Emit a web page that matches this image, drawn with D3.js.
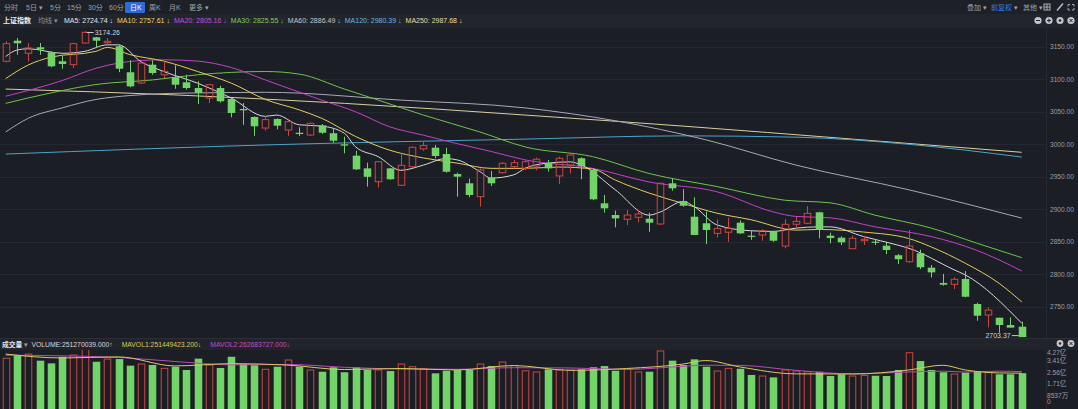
<!DOCTYPE html>
<html>
<head>
<meta charset="utf-8">
<script src="https://cdn.jsdelivr.net/npm/d3@7"></script>
<style>
  html, body { margin: 0; padding: 0; background: #1c1e25; overflow: hidden; }
  svg { display: block; }
  text { font-family: "Liberation Sans", "Noto Sans CJK SC", sans-serif; }
</style>
</head>
<body>
<svg id="chart" width="1078" height="409"></svg>
<script>
// ---- data ----
const opens  = [3127.7,3159.4,3140,3149.2,3141.5,3127.7,3122.5,3155.8,3164.6,3156.3,3150.8,3110.8,3094.3,3122.5,3107,3103,3095.4,3086.6,3071.2,3086.6,3069.7,3054.3,3042,3025,3038.9,3022,3017.8,3014.3,3029.2,3017,3000,2982.5,2963,2942.5,2963,2937,2965.6,2992.9,2994.8,2985,2954.3,2940,2919.4,2948.6,2956.3,2965.6,2963,2966.7,2970.8,2951.3,2968.2,2978.5,2960.5,2909.2,2891.2,2884.6,2887.7,2885.5,2877.4,2940,2912.8,2888.6,2878.5,2863,2864.7,2879.4,2859.4,2860.5,2865.6,2843.5,2877,2878.5,2895.4,2859.4,2856.3,2839.4,2851.7,2850.2,2844,2829.3,2819.4,2832.3,2810.2,2786.7,2784.6,2792.8,2754.3,2737.4,2733.2,2722,2719.4];
const highs  = [3158.5,3163.5,3155.8,3155.8,3143,3136.3,3156.3,3174.26,3165,3163.5,3153.2,3129.2,3125.5,3129.2,3127.7,3121.5,3107,3097,3092.8,3090,3071.2,3063.5,3043,3043,3040,3037.4,3026.2,3033.5,3031,3024.6,3011.7,2990,2971.7,2974.3,2963.5,2986.2,2996.5,3004,2999,2994.8,2956.3,2947,2963,2959,2973,2976,2975,2979.6,2976,2981,2986,2980,2963,2922,2898,2899,2899,2894.8,2941,2947.7,2931,2918.5,2896.3,2884.6,2887,2883,2868.2,2869.4,2867,2884.6,2888.6,2905,2896.3,2864,2858.5,2859.4,2859.4,2854,2850.2,2831.3,2868.2,2838,2814.3,2800.5,2795.4,2805,2756.3,2749.2,2733.2,2733.8,2727.2];
const lows   = [3126,3137.8,3127.7,3137.8,3118.5,3116.3,3117.4,3155,3148,3153.2,3111,3087.7,3092.8,3107,3102,3085.5,3084,3062,3063.5,3064,3041.5,3030,3013,3021,3023,3012.8,3012.8,3012.8,3016,3002.5,2986.2,2960.5,2934.8,2933.8,2945.5,2936,2964,2990,2978.5,2956.3,2919.4,2918.5,2904,2935.8,2955,2963,2960,2960,2958,2939,2955.5,2946.2,2914,2895,2872.3,2875.8,2880,2865.5,2876,2928.6,2904,2860.5,2846.6,2856.8,2850,2862,2853,2851.7,2850,2840,2872.5,2877.4,2855.4,2847.6,2845,2838.9,2845,2845,2831,2815.8,2817.8,2808,2795,2782.5,2777.4,2764.6,2728.6,2718.4,2710.2,2718,2703.37];
const closes = [3154.8,3155.4,3148.2,3146.2,3120,3123.5,3154.8,3172.3,3159.4,3158.5,3116.3,3089.2,3125,3109.7,3112.3,3091.7,3086.6,3079,3091.7,3066.2,3048.2,3052.3,3027.7,3038,3028.6,3034.8,3015.8,3032.3,3017.8,3005.5,2998,2961.5,2950,2973.2,2946.2,2967.7,2995.4,2998,2982,2957.8,2950.2,2922,2960.5,2940,2970.8,2971.7,2973.2,2977,2963,2978.5,2983.5,2966.7,2915.4,2901.5,2886,2891.2,2892.8,2879.4,2940,2932.3,2905.5,2860.5,2868.2,2870.3,2870.8,2863,2858,2867.2,2851.7,2876.9,2881.5,2893.8,2868.2,2855.8,2849.2,2855.4,2853.8,2848.6,2837.4,2823.2,2843.5,2810.8,2803,2784,2792.3,2765.5,2736.3,2745,2722,2718,2703.4];
// volume in 亿
const volumes = [3.62,3.86,3.93,3.44,3.24,3.73,3.86,4.27,3.36,3.56,3.56,3.07,3.19,3.12,2.87,2.99,2.75,3.59,3.12,2.90,3.73,3.19,3.10,2.80,2.99,3.49,2.99,2.75,2.62,2.95,2.58,2.95,2.75,2.75,2.67,3.19,2.99,2.84,2.50,2.69,2.75,2.75,3.19,3.04,3.34,3.07,2.69,2.60,2.80,2.75,2.75,2.80,2.95,3.04,2.69,2.80,2.60,2.62,4.16,3.44,3.12,3.54,2.99,2.67,2.87,2.84,2.38,2.30,2.20,2.75,2.67,2.62,2.62,2.30,2.43,2.30,2.35,2.32,2.30,2.75,4.03,3.41,2.75,2.58,2.45,2.55,2.62,2.58,2.43,2.43,2.51];

// moving-average lines, sampled at candle indices
const ma5Idx = [0,1,2,5,7,9,10,12,14,17,20,23,24,26,28,30,31,33,35,37,39,40,42,43,45,46,48,50,51,54,57,58,60,61,63,66,68,70,72,73,76,79,80,84,85,90];
const ma5    = [3135,3145,3147,3140,3143,3153,3153,3127,3112,3094,3071,3043,3045,3030,3028,3017,2996,2981,2960,2968,2978,2976,2958,2948,2953,2963,2971,2973,2968,2930,2891,2896,2912,2904,2876,2867,2866,2871,2873,2873,2858,2845,2840,2807,2799,2724.74];
const ma10Idx = [0,2,4,8,9,11,14,17,20,23,26,28,31,34,37,40,43,46,49,52,54,57,60,63,66,70,72,76,80,82,85,88,90];
const ma10    = [3101,3122,3134,3143,3149,3138,3128,3112,3094,3069,3053,3040,3012,2991,2979,2971,2963,2963,2965,2962,2945,2925,2909,2894,2884,2868,2869,2865,2855,2842,2817,2786,2757.61];
const ma20Idx = [0,5,8,12,14,17,20,23,28,31,34,37,40,43,46,52,57,63,68,70,73,77,82,86,90];
const ma20    = [3074,3098,3117,3129,3130,3128,3118,3099,3068,3050,3027,3014,3001,2989,2976,2963,2942,2927,2896,2889,2887,2873,2858,2837,2805.16];
const ma30Idx = [0,4,8,13,17,23,26,30,33,37,42,46,52,57,63,69,73,77,82,86,90];
const ma30    = [3063,3079,3092,3099,3107,3112,3108,3085,3068,3045,3019,2996,2981,2955,2935,2914,2910,2891,2871,2848,2825.55];
const ma60Idx = [0,2,5,8,11,14,17,23,35,46,62,70,80,90];
const ma60    = [3019,3040,3056,3069,3075,3078,3079,3080,3068,3056,3007,2968,2930,2886.49];
const ma120Idx = [0,23,46,60,70,80,90];
const ma120    = [2985,2999,3008,3013,3011,3000,2980.39];
const ma250Idx = [0,15,30,46,60,75,90];
const ma250    = [3085,3076,3063,3045,3028,3008,2987.68];
// volume averages (亿)
const mavIdx = [0,5,10,15,20,25,30,35,40,45,50,55,60,62,65,70,75,80,83,85,88,90];
const mavol1 = [3.93,3.64,3.72,3.05,3.22,3.11,2.78,2.86,2.75,3.08,2.72,2.86,3.19,3.45,2.98,2.46,2.45,2.75,3.10,2.75,2.53,2.51];
const mavol2 = [3.85,3.80,3.68,3.38,3.13,3.16,2.95,2.82,2.80,2.92,2.90,2.79,3.02,3.10,3.09,2.72,2.46,2.60,2.66,2.60,2.66,2.63];

const priceTicks = [3150,3100,3050,3000,2950,2900,2850,2800,2750];
const volTicks = [4.27,3.41,2.56,1.71,0.8537,0];
const volTickLabels = ["4.27亿","3.41亿","2.56亿","1.71亿","8537万","0"];

const toolbarItems = ["分时","5日 ▾","5分","15分","30分","60分","日K","周K","月K","更多 ▾"];
const toolbarX     = [4, 26, 50, 67, 88, 109, 130, 149, 169, 189];

// ---- layout ----
const W = 1078, H = 409;
const UP = "#d0463e", DOWN = "#72d468";
const svg = d3.select("#chart");

// backgrounds
svg.append("rect").attr("width", W).attr("height", H).attr("fill", "#1c1e25");
svg.append("rect").attr("x", 0).attr("y", 0).attr("width", W).attr("height", 14).attr("fill", "#1e2027");
svg.append("rect").attr("x", 0).attr("y", 14).attr("width", W).attr("height", 14).attr("fill", "#23252d");
svg.append("rect").attr("x", 0).attr("y", 338).attr("width", W).attr("height", 12).attr("fill", "#22242c");

const x = d3.scaleBand()
  .domain(d3.range(closes.length))
  .range([0, 1027.4])
  .paddingInner(0.42)
  .paddingOuter(0.21);
const xc = i => x(0) + (x.step() * i) + x.bandwidth() / 2;

const y = d3.scaleLinear().domain([2750, 3150]).range([306.8, 46.8]);
const yv = d3.scaleLinear().domain([0, 4.27]).range([407, 349.5]);

// grid lines
svg.append("g").selectAll("line").data(priceTicks).enter().append("line")
  .attr("x1", 0).attr("x2", 1047)
  .attr("y1", d => Math.round(y(d)) + 0.5).attr("y2", d => Math.round(y(d)) + 0.5)
  .attr("stroke", "#252831").attr("stroke-width", 1);
svg.append("line").attr("x1", 1046.5).attr("x2", 1046.5).attr("y1", 28).attr("y2", 338)
  .attr("stroke", "#262933");
svg.append("line").attr("x1", 1046.5).attr("x2", 1046.5).attr("y1", 350).attr("y2", 409)
  .attr("stroke", "#262933");

// price axis labels
svg.append("g").selectAll("text").data(priceTicks).enter().append("text")
  .attr("x", 1050).attr("y", d => y(d) + 2.3)
  .attr("font-size", "6.6px").attr("fill", "#9b9ea6")
  .text(d => d.toFixed(2));

// clip for the price panel
svg.append("clipPath").attr("id", "pclip").append("rect")
  .attr("x", 0).attr("y", 28).attr("width", 1046).attr("height", 310);
svg.append("clipPath").attr("id", "vclip").append("rect")
  .attr("x", 0).attr("y", 350).attr("width", 1046).attr("height", 59);

const plot = svg.append("g").attr("clip-path", "url(#pclip)");

// MA lines
const maLine = d3.line().x(d => xc(d[0])).y(d => y(d[1])).curve(d3.curveMonotoneX);
const maDefs = [
  [ma250Idx, ma250, "#d8cf9c"],
  [ma120Idx, ma120, "#4ea3c9"],
  [ma60Idx, ma60, "#a8a9b0"],
  [ma30Idx, ma30, "#6cc449"],
  [ma20Idx, ma20, "#c241c8"],
  [ma10Idx, ma10, "#e2cd5c"],
  [ma5Idx, ma5, "#d8d8dc"]
];
maDefs.forEach(([idx, vals, col]) => {
  plot.append("path")
    .datum(idx.map((d, i) => [d, vals[i]]))
    .attr("fill", "none").attr("stroke", col).attr("stroke-width", 1)
    .attr("d", maLine);
});

// candles
const candles = plot.append("g").selectAll("g").data(d3.range(closes.length)).enter().append("g");
candles.each(function(i) {
  const g = d3.select(this);
  const up = closes[i] >= opens[i];
  const cx = Math.round(xc(i)) + 0.5;
  const top = y(Math.max(opens[i], closes[i]));
  const bot = y(Math.min(opens[i], closes[i]));
  const bw = x.bandwidth();
  const col = up ? UP : DOWN;
  if (up) {
    g.append("line").attr("x1", cx).attr("x2", cx).attr("y1", y(highs[i])).attr("y2", top).attr("stroke", col);
    g.append("line").attr("x1", cx).attr("x2", cx).attr("y1", bot).attr("y2", y(lows[i])).attr("stroke", col);
    g.append("rect").attr("x", cx - bw / 2).attr("y", top)
      .attr("width", bw).attr("height", Math.max(1, bot - top))
      .attr("fill", "none").attr("stroke", col).attr("stroke-width", 1);
  } else {
    g.append("line").attr("x1", cx).attr("x2", cx).attr("y1", y(highs[i])).attr("y2", y(lows[i])).attr("stroke", col);
    g.append("rect").attr("x", cx - bw / 2 - 0.5).attr("y", top)
      .attr("width", bw + 1).attr("height", Math.max(1.2, bot - top))
      .attr("fill", col);
  }
});

// high / low markers
const hiI = highs.indexOf(d3.max(highs));
const loI = lows.indexOf(d3.min(lows));
plot.append("line").attr("x1", xc(hiI) + 2).attr("x2", xc(hiI) + 9)
  .attr("y1", y(highs[hiI]) + 1.5).attr("y2", y(highs[hiI]) + 1.5).attr("stroke", "#c8cad0");
plot.append("text").attr("x", xc(hiI) + 10).attr("y", y(highs[hiI]) + 4)
  .attr("font-size", "7px").attr("fill", "#d0d2d8").text(highs[hiI].toFixed(2));
plot.append("line").attr("x1", xc(loI) - 10).attr("x2", xc(loI) - 3)
  .attr("y1", y(lows[loI]) - 1.5).attr("y2", y(lows[loI]) - 1.5).attr("stroke", "#c8cad0");
plot.append("text").attr("x", xc(loI) - 11).attr("y", y(lows[loI]) + 1).attr("text-anchor", "end")
  .attr("font-size", "7px").attr("fill", "#d0d2d8").text(lows[loI].toFixed(2));

// volume bars
const vplot = svg.append("g").attr("clip-path", "url(#vclip)");
vplot.selectAll("rect").data(volumes).enter().append("rect")
  .attr("x", (d, i) => Math.round(xc(i)) + 0.5 - x.bandwidth() / 2 - (closes[i] >= opens[i] ? 0 : 0.5))
  .attr("y", d => yv(d))
  .attr("width", (d, i) => closes[i] >= opens[i] ? x.bandwidth() : x.bandwidth() + 1)
  .attr("height", d => 412 - yv(d))
  .attr("fill", (d, i) => closes[i] >= opens[i] ? "none" : DOWN)
  .attr("stroke", (d, i) => closes[i] >= opens[i] ? UP : "none");

const vLine = d3.line().x(d => xc(d[0])).y(d => yv(d[1])).curve(d3.curveMonotoneX);
vplot.append("path").datum(mavIdx.map((d, i) => [d, mavol2[i]]))
  .attr("fill", "none").attr("stroke", "#b64ab9").attr("stroke-width", 1).attr("d", vLine);
vplot.append("path").datum(mavIdx.map((d, i) => [d, mavol1[i]]))
  .attr("fill", "none").attr("stroke", "#d9c95e").attr("stroke-width", 1).attr("d", vLine);

// volume axis labels
svg.append("g").selectAll("text").data(volTicks).enter().append("text")
  .attr("x", 1047)
  .attr("y", d => Math.min(402, Math.max(353, yv(d))) + 2.4)
  .attr("font-size", "6.6px").attr("fill", "#9b9ea6")
  .text((d, i) => volTickLabels[i]);

// ---- toolbar ----
svg.append("rect").attr("x", 125).attr("y", 2).attr("width", 20).attr("height", 11)
  .attr("fill", "#2d6bd6").attr("rx", 1);
svg.append("g").selectAll("text").data(toolbarItems).enter().append("text")
  .attr("x", (d, i) => toolbarX[i]).attr("y", 9.6)
  .attr("font-size", "7px")
  .attr("fill", d => d === "日K" ? "#ffffff" : "#9fa2aa")
  .text(d => d);

const tr = svg.append("text").attr("x", 967).attr("y", 9.6).attr("font-size", "7px").attr("fill", "#9fa2aa");
tr.append("tspan").text("叠加 ▾");
tr.append("tspan").attr("dx", 4).attr("fill", "#3b7fe4").text("前复权");
tr.append("tspan").attr("dx", 2).text("▾");
tr.append("tspan").attr("dx", 5).text("其他 ▾");

// toolbar icons
const ic = svg.append("g").attr("stroke", "#b9bcc3").attr("fill", "none").attr("stroke-width", 0.9);
ic.append("rect").attr("x", 1044).attr("y", 4).attr("width", 6).attr("height", 6);
ic.append("line").attr("x1", 1044).attr("x2", 1050).attr("y1", 7).attr("y2", 7);
ic.append("line").attr("x1", 1047).attr("x2", 1047).attr("y1", 4).attr("y2", 10);
ic.append("line").attr("x1", 1057).attr("x2", 1063).attr("y1", 10.5).attr("y2", 3.5).attr("stroke-width", 1.5);
ic.append("path").attr("d", "M1068,4.5h2M1068,4.5v2M1074,4.5h-2M1074,4.5v2M1068,10h2M1068,10v-2M1074,10h-2M1074,10v-2");

const circ = svg.append("g");
[[1038, "minus"], [1049, "plus"], [1060, "gear"], [1071, "close"]].forEach(([cx, kind]) => {
  circ.append("circle").attr("cx", cx).attr("cy", 20.5).attr("r", 3.6).attr("fill", "#c4c6cc");
  const s = circ.append("g").attr("stroke", "#23252d").attr("stroke-width", 1);
  if (kind === "minus" || kind === "plus") s.append("line").attr("x1", cx - 2).attr("x2", cx + 2).attr("y1", 20.5).attr("y2", 20.5);
  if (kind === "plus") s.append("line").attr("x1", cx).attr("x2", cx).attr("y1", 18.5).attr("y2", 22.5);
  if (kind === "gear") circ.append("circle").attr("cx", cx).attr("cy", 20.5).attr("r", 1.3).attr("fill", "#23252d");
  if (kind === "close") {
    s.append("line").attr("x1", cx - 1.5).attr("x2", cx + 1.5).attr("y1", 19).attr("y2", 22);
    s.append("line").attr("x1", cx - 1.5).attr("x2", cx + 1.5).attr("y1", 22).attr("y2", 19);
  }
});
[[1060, "gear"], [1071, "close"]].forEach(([cx, kind]) => {
  circ.append("circle").attr("cx", cx).attr("cy", 343.5).attr("r", 3.4).attr("fill", "#c4c6cc");
  if (kind === "gear") circ.append("circle").attr("cx", cx).attr("cy", 343.5).attr("r", 1.2).attr("fill", "#22242c");
  else {
    circ.append("line").attr("x1", cx - 1.4).attr("x2", cx + 1.4).attr("y1", 342.1).attr("y2", 344.9).attr("stroke", "#22242c");
    circ.append("line").attr("x1", cx - 1.4).attr("x2", cx + 1.4).attr("y1", 344.9).attr("y2", 342.1).attr("stroke", "#22242c");
  }
});

// ---- MA legend ----
const lg = svg.append("text").attr("x", 3).attr("y", 23).attr("font-size", "7px");
lg.append("tspan").attr("fill", "#f2f2f4").attr("font-weight", "bold").text("上证指数");
lg.append("tspan").attr("dx", 7).attr("fill", "#8d9098").text("均线 ▾");
const maLegend = [
  ["MA5", ma5, "#e4e4e8"], ["MA10", ma10, "#e8d65e"], ["MA20", ma20, "#d04ad2"],
  ["MA30", ma30, "#79cf55"], ["MA60", ma60, "#c4c5cb"], ["MA120", ma120, "#5cb9e2"], ["MA250", ma250, "#e6dea2"]
];
maLegend.forEach(([name, vals, col], i) => {
  lg.append("tspan").attr("dx", i === 0 ? 6 : 4).attr("fill", col)
    .text(name + ": " + vals[vals.length - 1].toFixed(2) + " ↓");
});

// ---- volume legend ----
const vl = svg.append("text").attr("x", 2).attr("y", 346.8).attr("font-size", "6.8px");
vl.append("tspan").attr("fill", "#e8e8ec").attr("font-weight", "bold").text("成交量");
vl.append("tspan").attr("dx", 2).attr("fill", "#9fa2aa").text("▾");
vl.append("tspan").attr("dx", 3).attr("fill", "#d6d7dc").text("VOLUME:251270039.000↑");
vl.append("tspan").attr("dx", 9).attr("fill", "#d9cb54").text("MAVOL1:251449423.200↓");
vl.append("tspan").attr("dx", 9).attr("fill", "#c04cc6").text("MAVOL2:262683727.000↓");

svg.append("line").attr("x1", 0).attr("x2", W).attr("y1", 338.5).attr("y2", 338.5).attr("stroke", "#2b2e37");
</script>
</body>
</html>
